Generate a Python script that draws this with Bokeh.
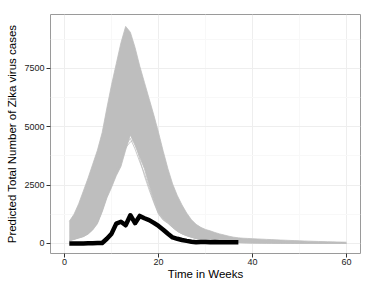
from bokeh.plotting import figure
from bokeh.models import Range1d, FixedTicker
from bokeh.embed import file_html
from bokeh.resources import INLINE

# ---- data ----
weeks = list(range(1, 61))

# outer envelope of the simulated trajectories (highest peaks)
sim_high = [950, 1250, 1700, 2250, 2800, 3400, 4000, 4750, 5800, 6800,
            7700, 8600, 9300, 9050, 8400, 7600, 6900, 6200, 5500, 4750,
            3950, 3200, 2550, 2050, 1650, 1300, 1020, 820, 690, 600,
            540, 470, 410, 360, 310, 270, 240, 225, 215, 205,
            195, 185, 175, 165, 155, 146, 138, 130, 122, 114,
            106, 99, 92, 86, 80, 74, 69, 64, 59, 55]

# inner envelope of the dense band (lowest dense peaks)
sim_low = [110, 170, 230, 290, 400, 580, 850, 1350, 1950, 2400,
           2900, 3300, 4000, 4650, 4200, 3700, 3200, 2500, 1850, 1300,
           1050, 900, 700, 530, 420, 340, 270, 215, 175, 145,
           120, 100, 84, 70, 58, 48, 40, 34, 29, 25,
           22, 19, 17, 15, 13, 12, 11, 10, 9, 8,
           7, 7, 6, 6, 5, 5, 4, 4, 4, 3]

# a few sparse trajectories inside the hollow
sim_sparse1 = [120, 180, 240, 300, 420, 620, 900, 1400, 2000, 2500,
               3000, 3500, 4100, 4350, 4450, 3600, 2900, 2300, 1750, 1250,
               1000, 860, 680, 520, 410, 330, 265, 210, 170, 140,
               115, 96, 80, 67, 56, 46, 38, 32, 27, 23,
               20, 18, 16, 14, 12, 11, 10, 9, 8, 7,
               7, 6, 6, 5, 5, 4, 4, 4, 3, 3]
sim_sparse2 = [130, 190, 250, 320, 450, 650, 950, 1450, 2100, 2600,
               3150, 3600, 4200, 4500, 4050, 3500, 3000, 2400, 1800, 1280,
               1020, 880, 690, 525, 415, 335, 268, 212, 172, 142,
               117, 98, 82, 68, 57, 47, 39, 33, 28, 24,
               21, 18, 16, 14, 12, 11, 10, 9, 8, 7,
               7, 6, 6, 5, 5, 4, 4, 4, 3, 3]

obs_weeks = list(range(1, 38))
observed = [0, 0, 0, 0, 5, 10, 15, 20, 200, 420,
            850, 930, 780, 1210, 870, 1180, 1080, 1000, 880, 750,
            590, 420, 260, 200, 150, 110, 75, 50, 60, 65,
            55, 60, 55, 50, 55, 50, 50]

x_ticks = [0, 20, 40, 60]
x_minor = [10, 30, 50]
y_ticks = [0, 2500, 5000, 7500]
y_minor = [1250, 3750, 6250, 8750]

GREY = "#BEBEBE"

p = figure(frame_width=310, frame_height=239,
           output_backend="svg", toolbar_location=None,
           x_range=Range1d(-3, 63), y_range=Range1d(-430, 9810),
           min_border_left=50, min_border_right=6, min_border_top=14,
           min_border_bottom=28)

p.background_fill_color = "white"
p.border_fill_color = "white"
p.outline_line_color = "#9A9A9A"
p.outline_line_width = 1

# band of simulated trajectories
p.varea(x=weeks, y1=sim_low, y2=sim_high, fill_color=GREY, fill_alpha=1.0)
for s in (sim_high, sim_low, sim_sparse1, sim_sparse2):
    p.line(weeks, s, line_color=GREY, line_width=0.8)

# observed cases
p.line(obs_weeks, observed, line_color="black", line_width=4.5,
       line_join="round", line_cap="butt")

# axes
p.xaxis.ticker = FixedTicker(ticks=x_ticks, minor_ticks=x_minor)
p.yaxis.ticker = FixedTicker(ticks=y_ticks, minor_ticks=y_minor)
p.xaxis.axis_label = "Time in Weeks"
p.yaxis.axis_label = "Predicted Total Number of Zika virus cases"

for ax in (p.xaxis, p.yaxis):
    ax.axis_line_color = None
    ax.major_tick_in = 0
    ax.major_tick_out = 4
    ax.major_tick_line_color = "#333333"
    ax.minor_tick_in = 0
    ax.minor_tick_out = 0
    ax.major_label_text_font = "Liberation Sans"
    ax.major_label_text_font_size = "9px"
    ax.major_label_text_color = "#222222"
    ax.axis_label_text_font = "Liberation Sans"
    ax.axis_label_text_font_size = "11.5px"
    ax.axis_label_text_font_style = "normal"
    ax.axis_label_text_color = "black"

p.xaxis.major_label_standoff = 1
p.xaxis.axis_label_standoff = 0
p.yaxis.major_label_standoff = 2
p.yaxis.axis_label_standoff = 3
p.yaxis.major_label_orientation = "horizontal"

p.xgrid.grid_line_color = "#EEEEEE"
p.ygrid.grid_line_color = "#EEEEEE"
p.xgrid.minor_grid_line_color = "#F8F8F8"
p.ygrid.minor_grid_line_color = "#F8F8F8"
p.xgrid.grid_line_width = 1
p.ygrid.grid_line_width = 1

open("out.html", "w").write(file_html(p, INLINE))
